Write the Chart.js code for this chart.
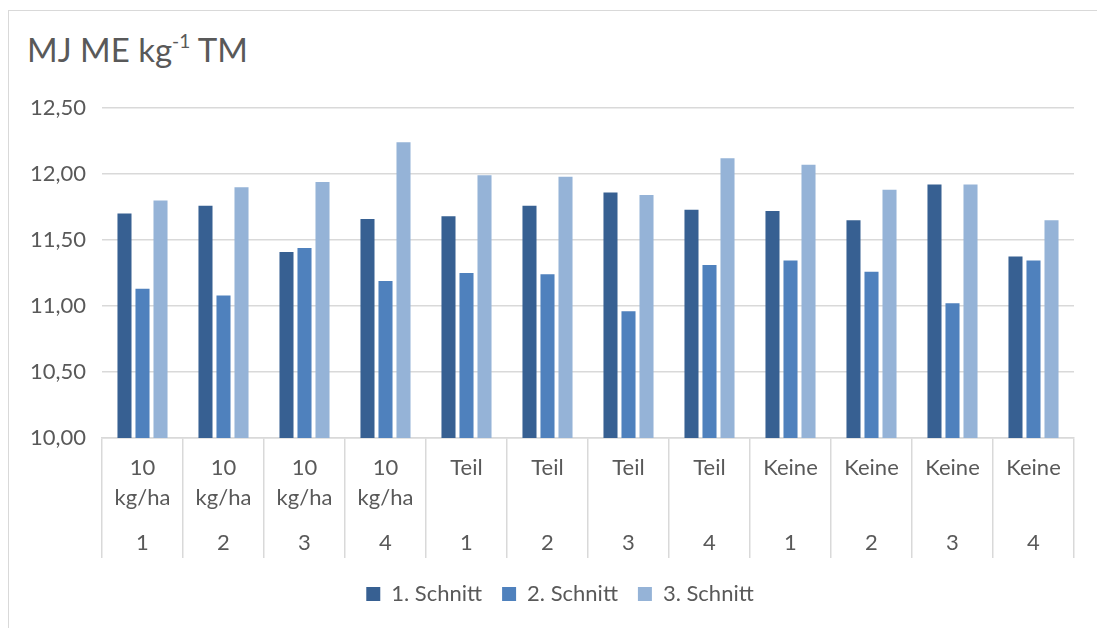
<!DOCTYPE html>
<html>
<head>
<meta charset="utf-8">
<script src="https://cdn.jsdelivr.net/npm/chart.js@4.4.1/dist/chart.umd.min.js"></script>
<style>
  html, body { margin: 0; padding: 0; background: #ffffff; overflow: hidden; }
  #wrap { position: relative; width: 1097px; height: 628px; }
  #frame { position: absolute; left: 8px; top: 10px; width: 1200px; height: 700px;
           border-left: 1.5px solid #d9d9d9; border-top: 1.5px solid #d9d9d9; pointer-events: none; }
  #title { position: absolute; left: 27px; top: 32px; font-family: Lato, "Open Sans", sans-serif;
           font-size: 33px; line-height: 34px; color: #595959; white-space: nowrap; }
  #title sup { font-size: 58%; vertical-align: 0; position: relative; top: -0.75em; }
  canvas { position: absolute; left: 0; top: 0; }
</style>
</head>
<body>
<div id="wrap">
  <div id="frame"></div>
  <div id="title">MJ ME kg<sup>-1</sup> TM</div>
  <canvas id="c" width="1097" height="628"></canvas>
</div>
<script>
// ---- data ----
const categoryLabels = [
  ['10', 'kg/ha'], ['10', 'kg/ha'], ['10', 'kg/ha'], ['10', 'kg/ha'],
  'Teil', 'Teil', 'Teil', 'Teil',
  'Keine', 'Keine', 'Keine', 'Keine'
];
const groupNumbers = ['1', '2', '3', '4', '1', '2', '3', '4', '1', '2', '3', '4'];
const seriesNames = ['1. Schnitt', '2. Schnitt', '3. Schnitt'];
const schnitt1 = [11.70, 11.76, 11.41, 11.66, 11.68, 11.76, 11.86, 11.73, 11.72, 11.65, 11.92, 11.375];
const schnitt2 = [11.13, 11.08, 11.44, 11.19, 11.25, 11.24, 10.96, 11.31, 11.345, 11.26, 11.02, 11.345];
const schnitt3 = [11.80, 11.90, 11.94, 12.24, 11.99, 11.98, 11.84, 12.12, 12.07, 11.88, 11.92, 11.65];
const yMin = 10, yMax = 12.5, yStep = 0.5;

const colors = ['#376092', '#4f81bd', '#95b3d7'];
const textColor = '#595959';
const gridColor = '#d9d9d9';
const fontFamily = 'Lato, "Open Sans", sans-serif';

const seriesValues = [schnitt1, schnitt2, schnitt3];

// shifts the legend so that it is centred under the whole frame
const legendShift = {
  id: 'legendShift',
  afterLayout(chart) {
    if (chart.legend) { chart.legend.left += 23; chart.legend.right += 23; }
  }
};

new Chart(document.getElementById('c'), {
  type: 'bar',
  data: {
    labels: categoryLabels,
    datasets: seriesNames.map((name, i) => ({
      label: name,
      data: seriesValues[i],
      backgroundColor: colors[i],
      borderWidth: 0,
      xAxisID: 'x',
      yAxisID: 'y',
      categoryPercentage: 0.667,
      barPercentage: 0.78
    }))
  },
  plugins: [legendShift],
  options: {
    responsive: false,
    devicePixelRatio: 1,
    animation: false,
    layout: { padding: { top: 108, right: 23, left: 0, bottom: 13 } },
    plugins: {
      tooltip: { enabled: false },
      title: { display: false },
      legend: {
        display: true,
        position: 'bottom',
        labels: {
          boxWidth: 14, boxHeight: 14, padding: 20,
          color: textColor,
          font: { family: fontFamily, size: 22 }
        }
      }
    },
    scales: {
      x: {
        type: 'category',
        position: 'bottom',
        weight: 0,
        offset: true,
        grid: { display: true, drawOnChartArea: false, drawTicks: true, tickLength: 120,
                color: gridColor, lineWidth: 1.5, offset: true },
        border: { display: true, color: gridColor, width: 1.5 },
        ticks: { color: textColor, font: { family: fontFamily, size: 22, lineHeight: 1.35 },
                 padding: -104.8, maxRotation: 0, minRotation: 0, autoSkip: false },
        afterFit: (s) => { s.height = 75; }
      },
      x2: {
        type: 'category',
        position: 'bottom',
        weight: 1,
        offset: true,
        labels: groupNumbers,
        grid: { display: false, drawTicks: false },
        border: { display: false },
        ticks: { color: textColor, font: { family: fontFamily, size: 22, lineHeight: 1.35 },
                 padding: 15.2, maxRotation: 0, minRotation: 0, autoSkip: false },
        afterFit: (s) => { s.height = 50; }
      },
      y: {
        type: 'linear',
        min: yMin, max: yMax,
        beginAtZero: false,
        grid: { color: gridColor, lineWidth: 1.5, drawTicks: false },
        border: { display: false },
        ticks: {
          stepSize: yStep,
          padding: 16,
          color: textColor,
          font: { family: fontFamily, size: 22 },
          callback: (v) => Number(v).toFixed(2).replace('.', ',')
        },
        afterFit: (s) => { s.width = 102; }
      }
    }
  }
});
</script>
</body>
</html>
